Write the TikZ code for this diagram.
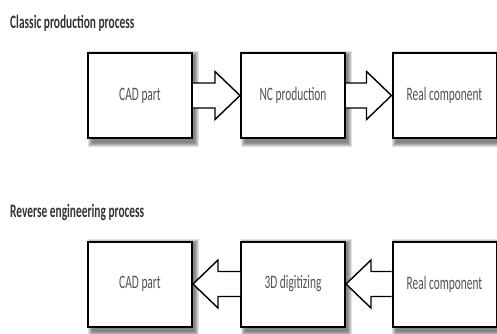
\documentclass[tikz,border=0pt]{standalone}
\usepackage{fontspec}
\setmainfont{Carlito}[FakeStretch=0.6]
\usetikzlibrary{calc}
\pgfdeclarelayer{shade}
\pgfsetlayers{shade,main}

\begin{document}
\begin{tikzpicture}[x=1pt,y=-1pt,
  box/.style={draw=black, line width=2pt, fill=white,
    minimum width=104pt, minimum height=85pt, inner sep=0pt,
    font=\fontsize{19}{21}\selectfont, text=black!68},
  flow/.style={draw=black, line width=1.4pt, fill=white, line join=miter},
  title/.style={anchor=base west, inner sep=0pt,
    font=\fontsize{19}{21}\selectfont\bfseries, text=black!80}]
\useasboundingbox (0,0) rectangle (497,333);

% classic production chain
\node[title] (t1) at (10,28) {Classic production process};
\node[box] (cad1) at (140,95.5) {CAD part};
\node[box] (nc)   at (293,95.5) {NC production};
\node[box] (real1) at (444.5,95.5) {Real component};

% reverse engineering chain
\node[title] (t2) at (10,217) {Reverse engineering process};
\node[box] (cad2) at (140,284) {CAD part};
\node[box] (dig)  at (293,284) {3D digitizing};
\node[box] (real2) at (444.5,284) {Real component};

% soft shadows under every box
\begin{pgfonlayer}{shade}
\foreach \n in {cad1,nc,real1,cad2,dig,real2}{
  \foreach \k in {0,1,2,3,4}{
    \fill[black, opacity=0.12]
      ($(\n.north west)+(0.5+\k,-1.5+\k)$) rectangle ($(\n.south east)+(6-\k,8-\k)$);
  }
}
\end{pgfonlayer}

% block arrows pointing right
\foreach \a/\b in {cad1/nc, nc/real1}{
  \draw[flow] ($(\a.east)+(0,-12.5)$) -- ($(\b.west)+(-25,-12.5)$)
    -- ($(\b.west)+(-25,-24)$) -- (\b.west) -- ($(\b.west)+(-25,24)$)
    -- ($(\b.west)+(-25,12.5)$) -- ($(\a.east)+(0,12.5)$);
}
% block arrows pointing left
\foreach \a/\b in {real2/dig, dig/cad2}{
  \draw[flow] ($(\a.west)+(0,-12.5)$) -- ($(\b.east)+(25,-12.5)$)
    -- ($(\b.east)+(25,-24)$) -- (\b.east) -- ($(\b.east)+(25,24)$)
    -- ($(\b.east)+(25,12.5)$) -- ($(\a.west)+(0,12.5)$);
}
\end{tikzpicture}
\end{document}
